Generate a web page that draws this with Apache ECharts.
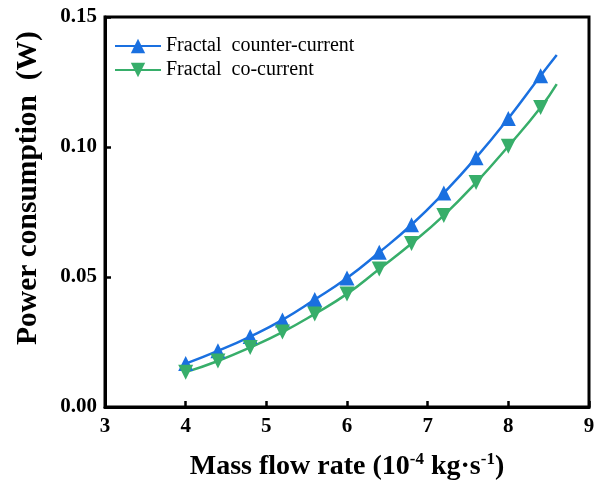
<!DOCTYPE html>
<html>
<head>
<meta charset="utf-8">
<script src="https://cdn.jsdelivr.net/npm/echarts@6/dist/echarts.min.js"></script>
<style>html,body{margin:0;padding:0;background:#fff;}#c{width:598px;height:484px;}</style>
</head>
<body>
<div id="c"></div>
<script>
var flowRate = [4.0, 4.4, 4.8, 5.2, 5.6, 6.0, 6.4, 6.8, 7.2, 7.6, 8.0, 8.4, 8.6];
var counterCurrent = [0.0167, 0.0216, 0.0271, 0.0335, 0.0413, 0.0496, 0.0595, 0.0701, 0.0823, 0.0959, 0.1110, 0.1274, 0.1354];
var coCurrent = [0.0134, 0.0177, 0.0229, 0.0288, 0.0358, 0.0435, 0.0531, 0.0629, 0.0737, 0.0863, 0.1003, 0.1152, 0.1242];
var markedCount = 12; // points with markers; the last point is the curve end only
var seriesNames = ['Fractal  counter-current', 'Fractal  co-current'];
var xTicks = [3, 4, 5, 6, 7, 8, 9];
var yTicks = [0, 0.05, 0.10, 0.15];

function build(vals) {
  return flowRate.map(function (x, i) {
    var item = { value: [x, vals[i]] };
    if (i >= markedCount) item.symbol = 'none';
    return item;
  });
}

var font = '"Liberation Serif", "Times New Roman", serif';
var chart = echarts.init(document.getElementById('c'));
chart.setOption({
  animation: false,
  backgroundColor: '#fff',
  grid: { left: 105, right: 9, top: 17, bottom: 77, containLabel: false, outerBoundsMode: 'none',
    show: true, borderColor: '#000', borderWidth: 3, backgroundColor: 'transparent' },
  legend: {
    left: 114, top: 36, orient: 'vertical', padding: 0, itemWidth: 46, itemHeight: 18, itemGap: 4,
    textStyle: { fontFamily: font, fontSize: 20, color: '#000' },
    data: seriesNames
  },
  xAxis: {
    type: 'value', min: xTicks[0], max: xTicks[xTicks.length - 1], interval: 1,
    axisLine: { show: true, lineStyle: { color: '#000', width: 3 } },
    axisTick: { show: true, inside: true, length: 6, lineStyle: { color: '#000', width: 2.5 } },
    splitLine: { show: false },
    axisLabel: { margin: 9, fontFamily: font, fontSize: 21, fontWeight: 'bold', color: '#000' },
    name: '{b|Mass flow rate (10}{s|-4}{b| kg·s}{s|-1}{b|)}',
    nameLocation: 'middle', nameGap: 44,
    nameTextStyle: {
      rich: {
        b: { fontFamily: font, fontSize: 28, fontWeight: 'bold', color: '#000', lineHeight: 32 },
        s: { fontFamily: font, fontSize: 17, fontWeight: 'bold', color: '#000', verticalAlign: 'top', lineHeight: 18 }
      }
    }
  },
  yAxis: {
    type: 'value', min: 0, max: yTicks[yTicks.length - 1], interval: 0.05,
    axisLine: { show: true, lineStyle: { color: '#000', width: 3 } },
    axisTick: { show: true, inside: true, length: 6, lineStyle: { color: '#000', width: 2.5 } },
    splitLine: { show: false },
    axisLabel: { margin: 8, fontFamily: font, fontSize: 21, fontWeight: 'bold', color: '#000',
      formatter: function (v) { return v.toFixed(2); } },
    name: 'Power consumption  (W)',
    nameLocation: 'middle', nameGap: 62,
    nameTextStyle: { fontFamily: font, fontSize: 29.5, fontWeight: 'bold', color: '#000', padding: [0, 0, 0, 48] }
  },
  series: [
    {
      name: seriesNames[0], type: 'line', smooth: true, data: build(counterCurrent),
      symbol: 'triangle', symbolSize: 15,
      lineStyle: { color: '#1a70e0', width: 2.5 }, itemStyle: { color: '#1a70e0' }
    },
    {
      name: seriesNames[1], type: 'line', smooth: true, data: build(coCurrent),
      symbol: 'triangle', symbolRotate: 180, symbolSize: 15,
      lineStyle: { color: '#37ae6a', width: 2.5 }, itemStyle: { color: '#37ae6a' }
    }
  ]
});
</script>
</body>
</html>
